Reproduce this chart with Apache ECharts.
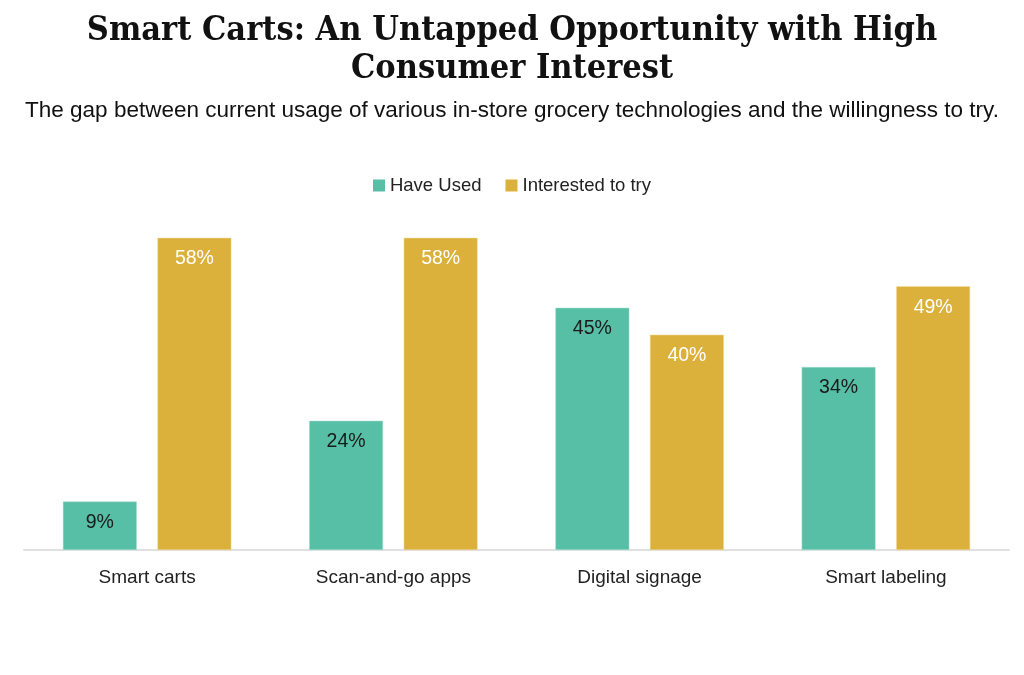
<!doctype html>
<html>
    <head>
        <meta charset="utf-8">
        <title>Smart Carts</title>
        <style>
            html, body { margin: 0; padding: 0; background: #fff; }
            #main { width: 1024px; height: 675px; }
        </style>
    </head>
    <body>
        <div id="main"></div>
        <script src="https://cdn.jsdelivr.net/npm/echarts@6/dist/echarts.min.js"></script>
        <script>
            var categories = ['Smart carts', 'Scan-and-go apps', 'Digital signage', 'Smart labeling'];
            var haveUsed = [9, 24, 45, 34];
            var interested = [58, 58, 40, 49];
            var seriesNames = ['Have Used', 'Interested to try'];

            var chart = echarts.init(document.getElementById('main'));

            chart.setOption({
                backgroundColor: '#ffffff',
                animation: false,
                title: [{
                    text: 'Smart Carts: An Untapped Opportunity with High\nConsumer Interest',
                    left: 'center',
                    top: 7,
                    textStyle: {
                        fontFamily: 'DejaVu Serif Condensed',
                        fontSize: 34,
                        fontWeight: 'bold',
                        lineHeight: 38,
                        color: '#111'
                    }
                }, {
                    text: 'The gap between current usage of various in-store grocery technologies and the willingness to try.',
                    left: 'center',
                    top: 94,
                    textStyle: {
                        fontFamily: 'Liberation Sans',
                        fontSize: 22.5,
                        fontWeight: 'normal',
                        color: '#111'
                    }
                }],
                legend: {
                    top: 171,
                    left: 'center',
                    icon: 'rect',
                    itemWidth: 12,
                    itemHeight: 12,
                    itemGap: 24,
                    itemStyle: { borderWidth: 0 },
                    textStyle: {
                        fontFamily: 'Liberation Sans',
                        fontSize: 18.5,
                        color: '#222'
                    },
                    data: seriesNames
                },
                grid: {
                    left: 24,
                    right: 15,
                    top: 227,
                    bottom: 125,
                    containLabel: false
                },
                xAxis: {
                    type: 'category',
                    data: categories,
                    axisTick: { show: false },
                    axisLine: {
                        lineStyle: { color: '#e0e0e0', width: 2 }
                    },
                    axisLabel: {
                        margin: 18,
                        fontFamily: 'Liberation Sans',
                        fontSize: 19,
                        color: '#222'
                    }
                },
                yAxis: {
                    type: 'value',
                    min: 0,
                    max: 60,
                    show: false
                },
                series: [{
                    name: seriesNames[0],
                    type: 'bar',
                    data: haveUsed,
                    barWidth: '30%',
                    barGap: '28%',
                    itemStyle: {
                        color: '#56bfa6',
                        borderColor: '#a8e0d0',
                        borderWidth: 0.5
                    },
                    label: {
                        show: true,
                        position: 'insideTop',
                        distance: 11,
                        formatter: '{c}%',
                        fontFamily: 'Liberation Sans',
                        fontSize: 19.5,
                        color: '#1a1a1a'
                    }
                }, {
                    name: seriesNames[1],
                    type: 'bar',
                    data: interested,
                    barWidth: '30%',
                    itemStyle: {
                        color: '#dcb13b',
                        borderColor: '#f0dca0',
                        borderWidth: 0.5
                    },
                    label: {
                        show: true,
                        position: 'insideTop',
                        distance: 11,
                        formatter: '{c}%',
                        fontFamily: 'Liberation Sans',
                        fontSize: 19.5,
                        color: '#ffffff'
                    }
                }]
            });

            window.onresize = chart.resize;
        </script>
    </body>
</html>
